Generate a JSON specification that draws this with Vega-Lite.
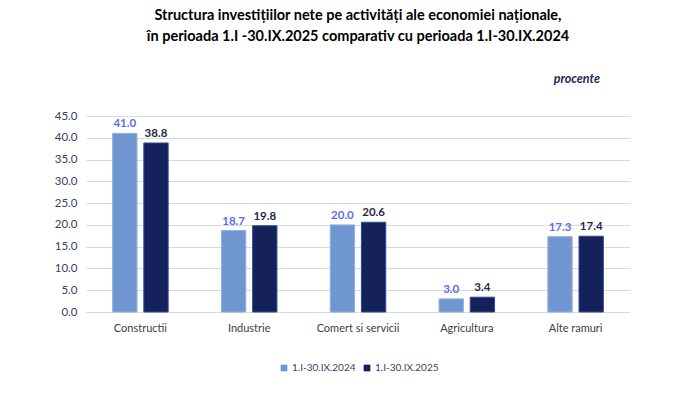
{
  "$schema": "https://vega.github.io/schema/vega-lite/v6.json",
  "width": 544,
  "height": 196,
  "padding": {"left": 54, "top": 8, "right": 70, "bottom": 5},
  "background": "white",
  "title": {
    "text": ["Structura investițiilor nete pe activități ale economiei naționale,", "în perioada 1.I -30.IX.2025 comparativ cu perioada 1.I-30.IX.2024"],
    "font": "Lato",
    "fontSize": 14.5,
    "fontWeight": "bold",
    "color": "#000000",
    "lineHeight": 21,
    "anchor": "middle",
    "offset": 28
  },
  "config": {
    "font": "Lato",
    "view": {"stroke": null},
    "axis": {"labelFont": "Lato", "grid": true, "gridColor": "#d9d9d9", "ticks": false}
  },
  "data": {
    "values": [
      {"categorie": "Constructii", "perioada": "1.I-30.IX.2024", "valoare": 41.0},
      {"categorie": "Constructii", "perioada": "1.I-30.IX.2025", "valoare": 38.8},
      {"categorie": "Industrie", "perioada": "1.I-30.IX.2024", "valoare": 18.7},
      {"categorie": "Industrie", "perioada": "1.I-30.IX.2025", "valoare": 19.8},
      {"categorie": "Comert si servicii", "perioada": "1.I-30.IX.2024", "valoare": 20.0},
      {"categorie": "Comert si servicii", "perioada": "1.I-30.IX.2025", "valoare": 20.6},
      {"categorie": "Agricultura", "perioada": "1.I-30.IX.2024", "valoare": 3.0},
      {"categorie": "Agricultura", "perioada": "1.I-30.IX.2025", "valoare": 3.4},
      {"categorie": "Alte ramuri", "perioada": "1.I-30.IX.2024", "valoare": 17.3},
      {"categorie": "Alte ramuri", "perioada": "1.I-30.IX.2025", "valoare": 17.4}
    ]
  },
  "encoding": {
    "x": {
      "field": "categorie",
      "type": "nominal",
      "sort": null,
      "scale": {"paddingInner": 0.49, "paddingOuter": 0.245},
      "axis": {"title": null, "labelAngle": 0, "labelFontSize": 11, "labelColor": "#404040", "labelPadding": 10, "grid": false, "domainColor": "#d9d9d9", "ticks": false}
    },
    "y": {
      "field": "valoare",
      "type": "quantitative",
      "scale": {"domain": [0, 45]},
      "axis": {"title": null, "values": [0, 5, 10, 15, 20, 25, 30, 35, 40, 45], "format": ".1f", "labelFontSize": 11.5, "labelColor": "#3a3f5c", "labelPadding": 9, "domain": false}
    },
    "xOffset": {"field": "perioada", "type": "nominal", "scale": {"paddingInner": 0.22}}
  },
  "layer": [
    {
      "mark": {"type": "bar", "strokeWidth": 1},
      "encoding": {
        "color": {
          "field": "perioada",
          "type": "nominal",
          "scale": {"domain": ["1.I-30.IX.2024", "1.I-30.IX.2025"], "range": ["#7096d1", "#14215a"]},
          "legend": {"title": null, "orient": "none", "legendX": 193, "legendY": 247, "direction": "horizontal", "symbolType": "square", "symbolSize": 45, "labelFontSize": 10, "labelColor": "#404060", "labelOffset": 3, "columnPadding": 6, "symbolStrokeWidth": 0}
        },
        "stroke": {
          "field": "perioada",
          "type": "nominal",
          "scale": {"domain": ["1.I-30.IX.2024", "1.I-30.IX.2025"], "range": ["#8fb0e0", "#2c4a94"]},
          "legend": null
        }
      }
    },
    {
      "mark": {"type": "text", "baseline": "bottom", "dy": -4, "fontSize": 11.5, "fontWeight": "bold"},
      "encoding": {
        "text": {"field": "valoare", "type": "quantitative", "format": ".1f"},
        "color": {
          "field": "perioada",
          "type": "nominal",
          "scale": {"domain": ["1.I-30.IX.2024", "1.I-30.IX.2025"], "range": ["#5a6cf0", "#1f2a4a"]},
          "legend": null
        }
      }
    },
    {
      "data": {"values": [{"eticheta": "procente", "categorie": "Alte ramuri", "valoare": 53.5}]},
      "mark": {"type": "text", "fontSize": 12.5, "fontWeight": "bold", "fontStyle": "italic", "color": "#1f2a5a", "clip": false, "dx": 29},
      "encoding": {
        "x": {"field": "categorie", "type": "nominal"},
        "y": {"field": "valoare", "type": "quantitative"},
        "xOffset": {"value": 0},
        "text": {"field": "eticheta"}
      }
    }
  ],
  "resolve": {"scale": {"color": "independent"}}
}
